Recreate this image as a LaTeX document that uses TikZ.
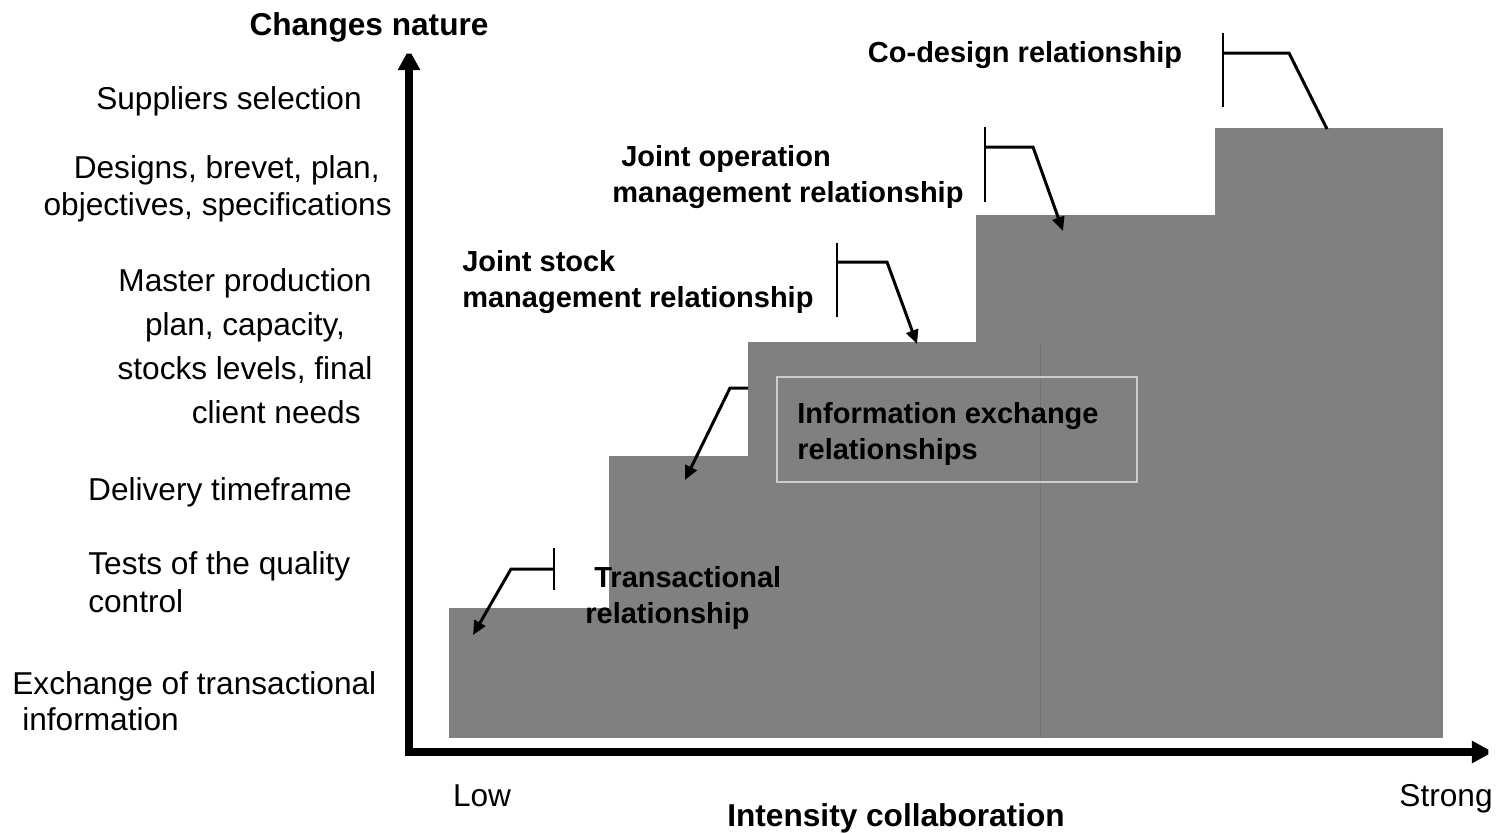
\documentclass[tikz,border=0pt]{standalone}
\usepackage{fontspec}
\setmainfont{Liberation Sans}
\usetikzlibrary{positioning,arrows.meta}
\definecolor{stepgray}{HTML}{808080}

\begin{document}
\begin{tikzpicture}[x=0.02cm,y=-0.02cm,every node/.style={inner sep=0pt},
	axis/.style={line width=4.5pt,miter limit=2},
	axislbl/.style={font=\fontsize{18}{21}\selectfont},
	axistitle/.style={font=\fontsize{18}{21}\selectfont\bfseries},
	steplbl/.style={font=\fontsize{16.5}{20}\selectfont\bfseries,align=left,anchor=base west},
	callout/.style={line width=1.7pt,-{Triangle[length=8pt,width=7pt]}},
	tick/.style={line width=0.8pt}]
		\useasboundingbox (0,0) rectangle (1510,833);

		%stairs
		\fill[stepgray] (449,738) rectangle (609,608);
		\fill[stepgray] (609,738) rectangle (748,456);
		\fill[stepgray] (748,738) rectangle (976,342);
		\fill[stepgray] (976,738) rectangle (1215,215);
		\fill[stepgray] (1215,738) rectangle (1443,128);
		\draw[black!55,line width=0.4pt] (1040,343) -- (1040,738);
		\draw[white!60!stepgray,line width=0.6pt] (777,377) rectangle (1137,482);

		%axes
		\coordinate (O) at (409,752);
		\coordinate (ytip) at (409,49);
		\coordinate (xtip) at (1493,752);
		\draw[axis,{Triangle[length=12pt,width=12pt]}-{Triangle[length=12pt,width=12pt]}] (ytip) -- (O) -- (xtip);

		%axis labels
		\node[axistitle] (ytitle) at (369,27) {Changes nature};
		\node[axistitle] (xtitle) at (896,818) {Intensity collaboration};
		\node[axislbl] (low) at (482,796) {Low};
		\node[axislbl] (strong) at (1446,799) {Strong};

		%changes (base = last line)
		\node[axislbl] (c1) at (229,101) {Suppliers selection};
		\node[axislbl,align=right,anchor=base east] (c2) at (392,215) {Designs, brevet, plan,\hspace*{0.24cm}\\objectives, specifications};
		\node[axislbl,align=center,anchor=base,font=\fontsize{18}{25}\selectfont] (c3) at (245,423) {Master production\\plan, capacity,\\stocks levels, final\\\hspace*{1.25cm}client needs};
		\node[axislbl] (c4) at (220,492) {Delivery timeframe};
		\node[axislbl,align=left,anchor=base west,font=\fontsize{18}{21.6}\selectfont] (c5) at (88,612) {Tests of the quality\\control};
		\node[axislbl,align=left,anchor=base west,font=\fontsize{18}{20}\selectfont] (c6) at (12,730) {Exchange of transactional\\\hspace*{0.2cm}information};

		%relationships
		\node[steplbl] (r1) at (585,623) {\hspace*{0.18cm}Transactional\\relationship};
		\node[steplbl] (r2) at (797,459) {Information exchange\\relationships};
		\node[steplbl] (r3) at (462,307) {Joint stock\\management relationship};
		\node[steplbl] (r4) at (612,202) {\hspace*{0.18cm}Joint operation\\management relationship};
		\node[steplbl,anchor=center] (r5) at (1025,55) {Co-design relationship};

		%callouts
		\coordinate (a1) at (554,569);
		\coordinate (b1) at (511,569);
		\coordinate (e1) at (473,635);
		\draw[tick] (554,548) -- (554,590);
		\draw[callout] (a1) -- (b1) -- (e1);

		\coordinate (a2) at (748,388);
		\coordinate (b2) at (730,388);
		\coordinate (e2) at (685,480);
		\draw[callout] (a2) -- (b2) -- (e2);

		\coordinate (a3) at (837,262);
		\coordinate (b3) at (887,262);
		\coordinate (e3) at (917,344);
		\draw[tick] (837,243) -- (837,317);
		\draw[callout] (a3) -- (b3) -- (e3);

		\coordinate (a4) at (985,147);
		\coordinate (b4) at (1033,147);
		\coordinate (e4) at (1063,231);
		\draw[tick] (985,127) -- (985,202);
		\draw[callout] (a4) -- (b4) -- (e4);

		\coordinate (a5) at (1223,53);
		\coordinate (b5) at (1289,53);
		\coordinate (e5) at (1327,129);
		\draw[tick] (1223,33) -- (1223,107);
		\draw[line width=1.7pt] (a5) -- (b5) -- (e5);
	\end{tikzpicture}
\end{document}
